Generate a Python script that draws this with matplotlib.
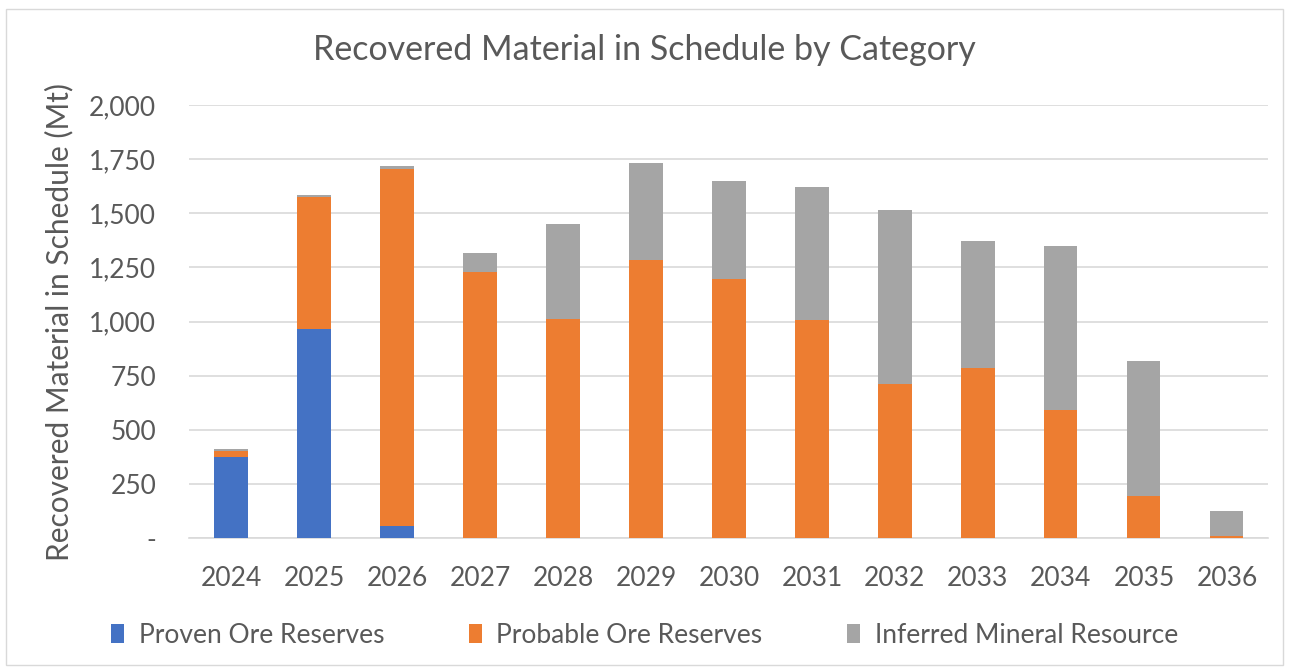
import matplotlib.pyplot as plt
import numpy as np
from matplotlib.patches import Rectangle
from matplotlib.ticker import FuncFormatter

plt.rcParams['font.family'] = ['Lato', 'DejaVu Sans']

# --- dati (Mt) ---
anni = ['2024', '2025', '2026', '2027', '2028', '2029', '2030',
        '2031', '2032', '2033', '2034', '2035', '2036']
proven = [374, 965, 57, 0, 0, 0, 0, 0, 0, 0, 0, 0, 0]
probable = [29, 612, 1646, 1231, 1012, 1285, 1195, 1008, 714, 786, 594, 194, 12]
inferred = [9, 8, 14, 84, 439, 446, 453, 612, 803, 585, 755, 624, 114]

c_blu = '#4472c4'
c_arancio = '#ed7d31'
c_grigio = '#a5a5a5'
c_testo = '#595959'

fig = plt.figure(figsize=(12.89, 6.68), dpi=100)
ax = fig.add_axes([0.147, 0.194, 0.837, 0.649])

x = np.arange(len(anni))
larg = 0.4
p = np.array(proven)
pr = np.array(probable)
inf = np.array(inferred)

ax.bar(x, p, larg, color=c_blu, label='Proven Ore Reserves', zorder=3)
ax.bar(x, pr, larg, bottom=p, color=c_arancio, label='Probable Ore Reserves', zorder=3)
ax.bar(x, inf, larg, bottom=p + pr, color=c_grigio, label='Inferred Mineral Resource', zorder=3)

ax.set_xlim(-0.5, len(anni) - 0.5)
ax.set_ylim(0, 2000)
ax.set_yticks(np.arange(0, 2001, 250))
ax.yaxis.set_major_formatter(FuncFormatter(lambda v, pos: '-' if v == 0 else f'{int(v):,}'))
ax.set_xticks(x)
ax.set_xticklabels(anni)

ax.grid(axis='y', color='#d9d9d9', linewidth=1.2, zorder=0)
for lato in ['top', 'right', 'left']:
    ax.spines[lato].set_visible(False)
ax.spines['bottom'].set_color('#d9d9d9')
ax.spines['bottom'].set_linewidth(1.2)
ax.tick_params(axis='both', length=0, labelsize=19, colors=c_testo)
ax.tick_params(axis='y', pad=24)
ax.tick_params(axis='x', pad=20)

ax.set_ylabel('Recovered Material in Schedule (Mt)', fontsize=21.5, color=c_testo, labelpad=11)
fig.text(0.5, 0.925, 'Recovered Material in Schedule by Category', ha='center', va='center',
         fontsize=24.5, color=c_testo)

ax.legend(loc='center', bbox_to_anchor=(0.5, 0.049), bbox_transform=fig.transFigure,
          ncol=3, frameon=False, fontsize=19, handlelength=0.5, handleheight=0.7,
          columnspacing=3.2, handletextpad=0.55, labelcolor=c_testo)

fig.patches.append(Rectangle((0.005, 0.005), 0.99, 0.982, transform=fig.transFigure,
                             fill=False, edgecolor='#d9d9d9', linewidth=1))

fig.savefig('out.png', dpi=100)
